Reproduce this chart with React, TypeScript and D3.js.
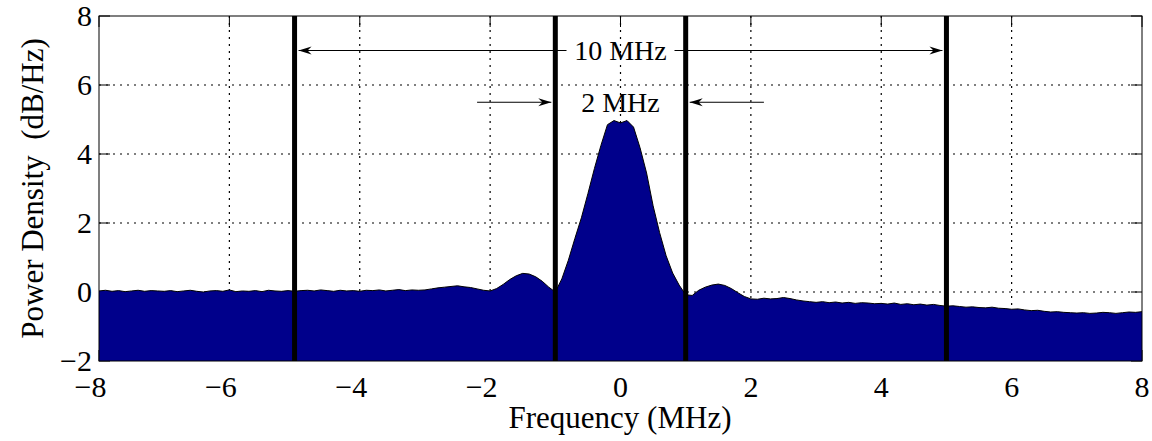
import * as d3 from "d3"
import { useMemo } from "react"

const psd = [
  0.03, 0.05, 0.02, 0.04, 0.01, 0.03, 0.05, 0.02, 0.04, 0.03,
  0.02, 0.04, 0.01, 0.03, 0.05, 0.02, 0.00, 0.03, 0.04, 0.02,
  0.06, 0.01, 0.03, 0.02, 0.04, 0.01, 0.05, 0.03, 0.02, 0.04,
  0.02, 0.04, 0.05, 0.03, 0.06, 0.04, 0.02, 0.05, 0.03, 0.04,
  0.02, 0.05, 0.04, 0.06, 0.03, 0.05, 0.07, 0.04, 0.06, 0.05,
  0.06, 0.09, 0.12, 0.14, 0.16, 0.18, 0.15, 0.13, 0.09, 0.05,
  0.03, 0.10, 0.22, 0.36, 0.47, 0.54, 0.52, 0.44, 0.31, 0.14,
  0.00, 0.38, 0.92, 1.55, 2.15, 2.85, 3.58, 4.25, 4.85, 4.97,
  4.90, 4.97, 4.78, 4.18, 3.45, 2.50, 1.72, 1.05, 0.55, 0.20,
  -0.08, -0.10, 0.05, 0.14, 0.20, 0.23, 0.19, 0.10, -0.02, -0.13,
  -0.20, -0.21, -0.18, -0.20, -0.19, -0.16, -0.19, -0.23, -0.26, -0.28,
  -0.30, -0.28, -0.31, -0.29, -0.32, -0.30, -0.33, -0.31, -0.32, -0.34,
  -0.33, -0.35, -0.32, -0.36, -0.34, -0.37, -0.35, -0.38, -0.36, -0.39,
  -0.41, -0.40, -0.42, -0.44, -0.43, -0.45, -0.46, -0.44, -0.47, -0.48,
  -0.50, -0.49, -0.52, -0.54, -0.53, -0.56, -0.58, -0.57, -0.59, -0.60,
  -0.61, -0.60, -0.62, -0.61, -0.59, -0.60, -0.62, -0.60, -0.58, -0.59, -0.57,
]
const freqStart = -8
const freqStep = 0.1

const xTicks = [-8, -6, -4, -2, 0, 2, 4, 6, 8]
const yTicks = [-2, 0, 2, 4, 6, 8]
const bandEdges = [-5, -1, 1, 5]

// annotations
const wideLabel = "10 MHz"
const wideLevel = 7
const wideSpan = [-5, 5]
const narrowLabel = "2 MHz"
const narrowLevel = 5.5
const narrowArrows = [[-2.2, -1], [2.2, 1]]

const FONT = "'Liberation Serif', 'Times New Roman', serif"
const fmt = (v: number) => (v < 0 ? "\u2212" + Math.abs(v) : String(v))

function arrowHead(x: number, y: number, dir: number) {
  // dir: +1 points right, -1 points left
  const L = 13, W = 4, N = 9
  return `M${x},${y} L${x - dir * L},${y - W} L${x - dir * N},${y} L${x - dir * L},${y + W} Z`
}

export default function App() {
  const width = 1152
  const height = 441
  const margin = { top: 16, right: 10, bottom: 80, left: 99 }

  const x = d3.scaleLinear().domain([-8, 8]).range([margin.left, width - margin.right])
  const y = d3.scaleLinear().domain([-2, 8]).range([height - margin.bottom, margin.top])

  const pts = useMemo(() => psd.map((v, i) => ({ f: freqStart + i * freqStep, v })), [])
  const area = d3.area<{ f: number; v: number }>().x(d => x(d.f)).y0(y(-2)).y1(d => y(d.v))
  const line = d3.line<{ f: number; v: number }>().x(d => x(d.f)).y(d => y(d.v))

  const [x0, x1] = x.range()
  const [yb, yt] = y.range()
  const tickLen = 11

  const wy = y(wideLevel)
  const ny = y(narrowLevel)
  const mid = x((wideSpan[0] + wideSpan[1]) / 2)
  const gap = 54

  return (
    <svg width={width} height={height} style={{ position: "absolute", left: 0, top: 0, background: "#fff" }}
      fontFamily={FONT}>
      {/* grid */}
      <g stroke="#000" strokeWidth={1.2} strokeDasharray="2,5">
        {xTicks.slice(1, -1).map(t => (
          <line key={"gx" + t} x1={x(t)} x2={x(t)} y1={yt} y2={yb} />
        ))}
        {yTicks.slice(1, -1).map(t => (
          <line key={"gy" + t} x1={x0} x2={x1} y1={y(t)} y2={y(t)} />
        ))}
      </g>
      {/* ticks */}
      <g stroke="#000" strokeWidth={1}>
        {xTicks.map(t => (
          <g key={"tx" + t}>
            <line x1={x(t)} x2={x(t)} y1={yt} y2={yt + tickLen} />
            <line x1={x(t)} x2={x(t)} y1={yb} y2={yb - tickLen} />
          </g>
        ))}
        {yTicks.map(t => (
          <g key={"ty" + t}>
            <line x1={x0} x2={x0 + tickLen} y1={y(t)} y2={y(t)} />
            <line x1={x1} x2={x1 - tickLen} y1={y(t)} y2={y(t)} />
          </g>
        ))}
      </g>
      {/* spectrum */}
      <path d={area(pts) ?? ""} fill="#00008b" />
      <path d={line(pts) ?? ""} fill="none" stroke="#000" strokeWidth={1} />
      {/* band edges */}
      {bandEdges.map(b => (
        <line key={"b" + b} x1={x(b)} x2={x(b)} y1={yt} y2={yb} stroke="#000" strokeWidth={5} />
      ))}
      {/* frame */}
      <rect x={x0} y={yt} width={x1 - x0} height={yb - yt} fill="none" stroke="#000" strokeWidth={1} />

      {/* 10 MHz annotation */}
      <g stroke="#000" strokeWidth={1.2}>
        <line x1={x(wideSpan[0]) + 4} x2={mid - gap} y1={wy} y2={wy} />
        <line x1={mid + gap} x2={x(wideSpan[1]) - 4} y1={wy} y2={wy} />
      </g>
      <path d={arrowHead(x(wideSpan[0]) + 4, wy, -1)} fill="#000" />
      <path d={arrowHead(x(wideSpan[1]) - 4, wy, 1)} fill="#000" />
      <text x={mid} y={wy + 9} textAnchor="middle" fontSize={28}>{wideLabel}</text>

      {/* 2 MHz annotation */}
      {narrowArrows.map(([a, b], i) => (
        <g key={"na" + i}>
          <line x1={x(a)} x2={x(b) + (b > a ? -4 : 4)} y1={ny} y2={ny} stroke="#000" strokeWidth={1.2} />
          <path d={arrowHead(x(b) + (b > a ? -4 : 4), ny, b > a ? 1 : -1)} fill="#000" />
        </g>
      ))}
      <text x={mid} y={ny + 10} textAnchor="middle" fontSize={28}>{narrowLabel}</text>

      {/* tick labels */}
      {xTicks.map(t => (
        <text key={"lx" + t} x={x(t) - (t < 0 ? 8.5 : 0)} y={yb + 36} textAnchor="middle" fontSize={30}>
          {fmt(t)}
        </text>
      ))}
      {yTicks.map(t => (
        <text key={"ly" + t} x={x0 - 7} y={y(t) + 10} textAnchor="end" fontSize={30}>
          {fmt(t)}
        </text>
      ))}
      {/* axis labels */}
      <text x={620} y={428} textAnchor="middle" fontSize={31}>Frequency (MHz)</text>
      <text transform={`translate(43, ${(yt + yb) / 2}) rotate(-90)`} textAnchor="middle" fontSize={31}
        style={{ whiteSpace: "pre" }}>
        {"Power Density  (dB/Hz)"}
      </text>
    </svg>
  )
}
